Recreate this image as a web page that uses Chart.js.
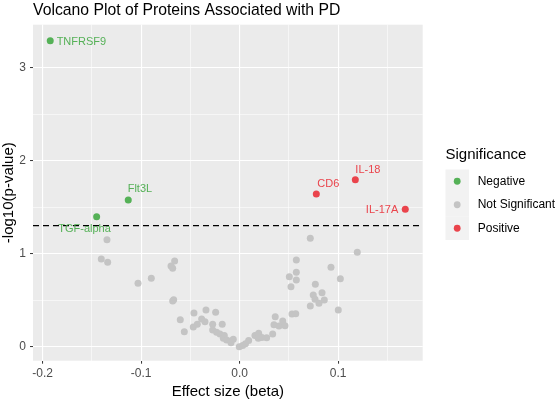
<!DOCTYPE html>
<html>
<head>
<meta charset="utf-8">
<script src="https://cdn.jsdelivr.net/npm/chart.js@4.4.1/dist/chart.umd.min.js"></script>
<style>
  body { margin: 0; background: #fff; }
  canvas { display: block; }
</style>
</head>
<body>
<canvas id="volcano" width="560" height="403"></canvas>
<script>
// significant proteins (beta, -log10 p)
const negNames = ['TNFRSF9', 'Flt3L', 'TGF-alpha'];
const negX = [-0.1923, -0.1131, -0.1452];
const negY = [3.29, 1.577, 1.398];

const posNames = ['CD6', 'IL-18', 'IL-17A'];
const posX = [0.0778, 0.1174, 0.1681];
const posY = [1.642, 1.796, 1.477];

// not significant
const nsX = [-0.1347, -0.1405, -0.1340, -0.1032, -0.0897, -0.0697, -0.0680, -0.0660, -0.0680, -0.0670,
  -0.0603, -0.0562, -0.0464, -0.0471, -0.0430, -0.0342, -0.0386, -0.0352, -0.0244, -0.0274,
  -0.0177, -0.0274, -0.0234, -0.0200, -0.0156, -0.0166, -0.0132, -0.0091, -0.0065, -0.0088,
  -0.0004, 0.0030, 0.0059, 0.0091, 0.0155, 0.0193, 0.0189, 0.0226, 0.0274, 0.0335,
  0.0348, 0.0361, 0.0399, 0.0437, 0.0460, 0.0531, 0.0569, 0.0504, 0.0521, 0.0575,
  0.0575, 0.0575, 0.0717, 0.0717, 0.0747, 0.0768, 0.0765, 0.0805, 0.0836, 0.0859,
  0.0927, 0.1001, 0.1022, 0.1194];
const nsY = [1.150, 0.943, 0.907, 0.682, 0.735, 0.868, 0.843, 0.921, 0.491, 0.505,
  0.290, 0.161, 0.362, 0.212, 0.241, 0.395, 0.298, 0.269, 0.370, 0.241,
  0.241, 0.180, 0.155, 0.137, 0.120, 0.090, 0.072, 0.061, 0.080, 0.043,
  0.000, 0.013, 0.031, 0.067, 0.120, 0.144, 0.090, 0.099, 0.097, 0.137,
  0.237, 0.323, 0.223, 0.276, 0.226, 0.352, 0.355, 0.753, 0.645, 0.932,
  0.800, 0.717, 1.166, 0.438, 0.556, 0.671, 0.510, 0.467, 0.581, 0.502,
  0.854, 0.395, 0.731, 1.015];

const xTicks = [-0.2, -0.1, 0.0, 0.1];
const yTicks = [0, 1, 2, 3];
const cutoff = 1.301; // -log10(0.05)

const legendLabels = ['Negative', 'Not Significant', 'Positive'];

const GREEN = '#55b157';
const GREY = '#c4c4c4';
const RED = '#ea444c';
const FONT = '"Liberation Sans", Arial, sans-serif';

// label placement relative to the point (px)
const labelPos = {
  'TNFRSF9': [6.4, 1, 'left'],
  'Flt3L': [-0.6, -10.7, 'left'],
  'TGF-alpha': [-38.4, 12.6, 'left'],
  'CD6': [1, -9.7, 'left'],
  'IL-18': [0, -9.7, 'left'],
  'IL-17A': [-7, 0.7, 'right']
};

const toPts = (xs, ys) => xs.map((x, i) => ({ x: x, y: ys[i] }));

// minor grid = midpoints between majors
const withMinor = (major, lo, hi) => {
  let out = [];
  const step = major[1] - major[0];
  for (let v = major[0] - step; v <= major[major.length - 1] + step + 1e-9; v += step / 2) {
    const r = Math.round(v * 1000) / 1000;
    if (r >= lo && r <= hi) out.push(r);
  }
  return out;
};
const isMajor = (list, v) => list.some(t => Math.abs(t - v) < 1e-6);

const X_MIN = -0.2098, X_MAX = 0.1858;
const Y_MIN = -0.15, Y_MAX = 3.462;

const panelBg = {
  id: 'panelBg',
  beforeDraw(chart) {
    const { ctx, chartArea: a } = chart;
    ctx.save();
    ctx.fillStyle = '#ebebeb';
    ctx.fillRect(a.left, a.top, a.right - a.left, a.bottom - a.top);
    ctx.restore();
  }
};

const extras = {
  id: 'extras',
  afterDatasetsDraw(chart) {
    const { ctx, chartArea: a, scales } = chart;
    // cutoff line
    const yc = scales.y.getPixelForValue(cutoff);
    ctx.save();
    ctx.strokeStyle = '#000';
    ctx.lineWidth = 1.3;
    ctx.setLineDash([6, 4]);
    ctx.beginPath();
    ctx.moveTo(a.left, yc);
    ctx.lineTo(a.right, yc);
    ctx.stroke();
    ctx.setLineDash([]);

    // point labels
    ctx.font = '11px ' + FONT;
    ctx.textBaseline = 'middle';
    [[0, negNames, GREEN], [2, posNames, RED]].forEach(([di, names, col]) => {
      const meta = chart.getDatasetMeta(di);
      meta.data.forEach((el, i) => {
        const p = labelPos[names[i]];
        ctx.fillStyle = col;
        ctx.textAlign = p[2];
        ctx.fillText(names[i], el.x + p[0], el.y + p[1]);
      });
    });
    ctx.restore();
  },
  afterDraw(chart) {
    const { ctx } = chart;
    ctx.save();
    // title
    ctx.fillStyle = '#000';
    ctx.font = '15.75px ' + FONT;
    ctx.textAlign = 'left';
    ctx.textBaseline = 'alphabetic';
    ctx.fillText('Volcano Plot of Proteins Associated with PD', 33, 14.5);

    // legend
    ctx.font = '15px ' + FONT;
    ctx.textBaseline = 'middle';
    ctx.fillText('Significance', 445.5, 155);
    const cols = [GREEN, GREY, RED];
    ctx.font = '12px ' + FONT;
    legendLabels.forEach((lab, i) => {
      const top = 169.5 + i * 23.5;
      ctx.fillStyle = '#f2f2f2';
      ctx.fillRect(445.5, top, 23.5, 23.5);
      ctx.fillStyle = cols[i];
      ctx.beginPath();
      ctx.arc(457.2, top + 11.75, 3.4, 0, Math.PI * 2);
      ctx.fill();
      ctx.fillStyle = '#000';
      ctx.fillText(lab, 477.7, top + 12);
    });
    ctx.restore();
  }
};

const xAll = withMinor(xTicks, X_MIN, X_MAX);
const yAll = withMinor(yTicks, Y_MIN, Y_MAX);

new Chart(document.getElementById('volcano'), {
  type: 'scatter',
  data: {
    datasets: [
      { label: legendLabels[0], data: toPts(negX, negY), backgroundColor: GREEN, borderWidth: 0, pointRadius: 3.5, order: 0 },
      { label: legendLabels[1], data: toPts(nsX, nsY), backgroundColor: GREY, borderWidth: 0, pointRadius: 3.5, order: 2 },
      { label: legendLabels[2], data: toPts(posX, posY), backgroundColor: RED, borderWidth: 0, pointRadius: 3.5, order: 1 }
    ]
  },
  options: {
    responsive: false,
    animation: false,
    devicePixelRatio: 1,
    layout: { padding: { left: 0, top: 24.7, right: 137.3, bottom: 2.5 } },
    plugins: {
      legend: { display: false },
      tooltip: { enabled: false }
    },
    scales: {
      x: {
        type: 'linear',
        min: X_MIN,
        max: X_MAX,
        afterBuildTicks: s => { s.ticks = xAll.map(v => ({ value: v })); },
        afterFit: s => { s.height = 39.8; },
        border: { display: false },
        grid: {
          color: '#ffffff',
          lineWidth: c => isMajor(xTicks, c.tick.value) ? 1.1 : 0.55,
          tickLength: 3,
          tickWidth: 1,
          tickColor: c => isMajor(xTicks, c.tick.value) ? '#333333' : 'rgba(0,0,0,0)'
        },
        ticks: {
          autoSkip: false,
          maxRotation: 0,
          padding: 3,
          color: '#4d4d4d',
          font: { family: FONT, size: 12 },
          callback: v => isMajor(xTicks, v) ? v.toFixed(1) : ''
        },
        title: {
          display: true,
          text: 'Effect size (beta)',
          color: '#000',
          padding: 0,
          font: { family: FONT, size: 15 }
        }
      },
      y: {
        type: 'linear',
        min: Y_MIN,
        max: Y_MAX,
        afterBuildTicks: s => { s.ticks = yAll.map(v => ({ value: v })); },
        afterFit: s => { s.width = 33; },
        border: { display: false },
        grid: {
          color: '#ffffff',
          lineWidth: c => isMajor(yTicks, c.tick.value) ? 1.1 : 0.55,
          tickLength: 3,
          tickWidth: 1,
          tickColor: c => isMajor(yTicks, c.tick.value) ? '#333333' : 'rgba(0,0,0,0)'
        },
        ticks: {
          autoSkip: false,
          padding: 4,
          color: '#4d4d4d',
          font: { family: FONT, size: 12 },
          callback: v => isMajor(yTicks, v) ? String(v) : ''
        },
        title: {
          display: true,
          text: '-log10(p-value)',
          color: '#000',
          padding: 0,
          font: { family: FONT, size: 15 }
        }
      }
    }
  },
  plugins: [panelBg, extras]
});
</script>
</body>
</html>
